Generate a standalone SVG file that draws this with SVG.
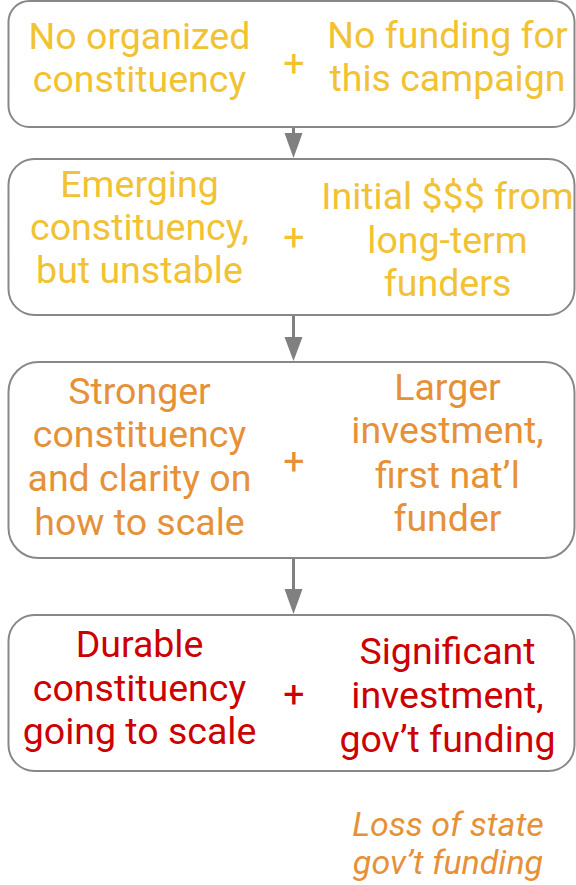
<svg xmlns="http://www.w3.org/2000/svg" width="576" height="885" viewBox="0 0 576 885">
<style>
.box{fill:#ffffff;stroke:#888888;stroke-width:2}
.t{font-family:Roboto,"Liberation Sans",sans-serif;font-size:37.5px;text-anchor:middle}
.y{fill:#f1c232}
.o{fill:#e69138}
.r{fill:#cc0000}
.i{font-family:Roboto,"Liberation Sans",sans-serif;font-size:34px;font-style:italic;text-anchor:middle;fill:#e69138}
.c{stroke:#808080;stroke-width:3;fill:none}
.h{fill:#808080}
</style>
<rect width="576" height="885" fill="#ffffff"/>
<g id="connectors">
<path class="c" d="M293.5,127 L293.5,134"/>
<path class="h" d="M284.5,133 L302.5,133 L293.5,158 Z"/>
<path class="c" d="M293.5,315 L293.5,338"/>
<path class="h" d="M284.5,337 L302.5,337 L293.5,361 Z"/>
<path class="c" d="M293.5,558 L293.5,590"/>
<path class="h" d="M284.5,589 L302.5,589 L293.5,614 Z"/>
</g>
<g id="node1">
<rect class="box" x="8.5" y="1" width="566" height="126" rx="21" ry="21"/>
<text class="t y" x="139.5" y="49">No organized</text>
<text class="t y" x="139.5" y="92">constituency</text>
<text class="t y" x="294" y="76">+</text>
<text class="t y" x="447.5" y="48">No funding for</text>
<text class="t y" x="447.5" y="91">this campaign</text>
</g>
<g id="node2">
<rect class="box" x="8.5" y="159" width="566" height="156" rx="26" ry="26"/>
<text class="t y" x="139.5" y="197">Emerging</text>
<text class="t y" x="139.5" y="240">constituency,</text>
<text class="t y" x="139.5" y="283">but unstable</text>
<text class="t y" x="294" y="250">+</text>
<text class="t y" x="447.5" y="209">Initial $$$ from</text>
<text class="t y" x="447.5" y="253">long-term</text>
<text class="t y" x="447.5" y="296">funders</text>
</g>
<g id="node3">
<rect class="box" x="8.5" y="362" width="566" height="196" rx="30" ry="30"/>
<text class="t o" x="139.5" y="404">Stronger</text>
<text class="t o" x="139.5" y="447">constituency</text>
<text class="t o" x="139.5" y="491">and clarity on</text>
<text class="t o" x="139.5" y="535">how to scale</text>
<text class="t o" x="294" y="474">+</text>
<text class="t o" x="447.5" y="400">Larger</text>
<text class="t o" x="447.5" y="443">investment,</text>
<text class="t o" x="447.5" y="488">first nat’l</text>
<text class="t o" x="447.5" y="531">funder</text>
</g>
<g id="node4">
<rect class="box" x="8.5" y="615" width="566" height="156" rx="26" ry="26"/>
<text class="t r" x="139.5" y="657">Durable</text>
<text class="t r" x="139.5" y="701">constituency</text>
<text class="t r" x="139.5" y="744">going to scale</text>
<text class="t r" x="294" y="707">+</text>
<text class="t r" x="447.5" y="664">Significant</text>
<text class="t r" x="447.5" y="708">investment,</text>
<text class="t r" x="447.5" y="752">gov’t funding</text>
</g>
<g id="note">
<text class="i" x="448" y="836">Loss of state</text>
<text class="i" x="448" y="874">gov’t funding</text>
</g>
</svg>
